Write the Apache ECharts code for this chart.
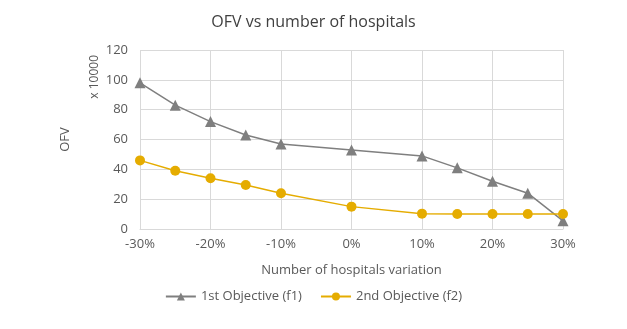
<!DOCTYPE html>
<html><head><meta charset="utf-8">
<script src="https://cdn.jsdelivr.net/npm/echarts@6/dist/echarts.min.js"></script>
<style>html,body{margin:0;padding:0;background:#fff}#c{width:627px;height:329px}</style>
</head><body><div id="c"></div>
<script>
const variation = [-30, -25, -20, -15, -10, 0, 10, 15, 20, 25, 30];
const f1 = [98, 83, 72, 63, 57, 53, 49, 41, 32, 24, 5.5];
const f2 = [46, 39, 34, 29.5, 24, 15, 10.3, 10, 10, 10, 10];
const yTicks = [0, 20, 40, 60, 80, 100, 120];
const names = ['1st Objective (f1)', '2nd Objective (f2)'];

const font = 'Open Sans';
const chart = echarts.init(document.getElementById('c'));
chart.setOption({
  animation: false,
  title: { text: 'OFV vs number of hospitals', left: 'center', top: 9,
    textStyle: { fontFamily: font, fontSize: 16, fontWeight: 'normal', color: '#404040' } },
  grid: { left: 140, right: 64, top: 50, bottom: 100 },
  legend: { bottom: 21, left: 'center', itemGap: 18, itemWidth: 30, itemHeight: 10,
    textStyle: { fontFamily: font, fontSize: 13, color: '#595959' },
    data: names },
  xAxis: { type: 'value', min: -30, max: 30, interval: 10,
    name: 'Number of hospitals variation', nameLocation: 'middle', nameGap: 35,
    nameTextStyle: { fontFamily: font, fontSize: 13, color: '#595959' },
    axisLine: { lineStyle: { color: '#d9d9d9' } }, axisTick: { show: false },
    axisLabel: { formatter: '{value}%', fontFamily: font, fontSize: 13, color: '#595959', margin: 9 },
    splitLine: { show: true, lineStyle: { color: '#d9d9d9' } } },
  yAxis: { type: 'value', min: yTicks[0], max: yTicks[yTicks.length-1], interval: 20,
    name: 'OFV', nameLocation: 'middle', nameGap: 68, nameRotate: 90,
    nameTextStyle: { fontFamily: font, fontSize: 13, color: '#595959' },
    axisLine: { show: false }, axisTick: { show: false },
    axisLabel: { fontFamily: font, fontSize: 13, color: '#595959', margin: 12 },
    splitLine: { lineStyle: { color: '#d9d9d9' } } },
  graphic: [{ type: 'text', left: 89, top: 55, rotation: Math.PI/2,
    style: { text: 'x 10000', font: '12px "Open Sans"', fill: '#595959' } }],
  series: [
    { name: names[0], type: 'line', data: variation.map((x,i)=>[x,f1[i]]),
      symbol: 'triangle', symbolSize: 11, color: '#7f7f7f',
      lineStyle: { width: 1.5, color: '#7f7f7f' }, itemStyle: { color: '#7f7f7f' } },
    { name: names[1], type: 'line', data: variation.map((x,i)=>[x,f2[i]]),
      symbol: 'circle', symbolSize: 10, color: '#e5ac00',
      lineStyle: { width: 1.5, color: '#e5ac00' }, itemStyle: { color: '#e5ac00' } }
  ]
});
</script></body></html>
